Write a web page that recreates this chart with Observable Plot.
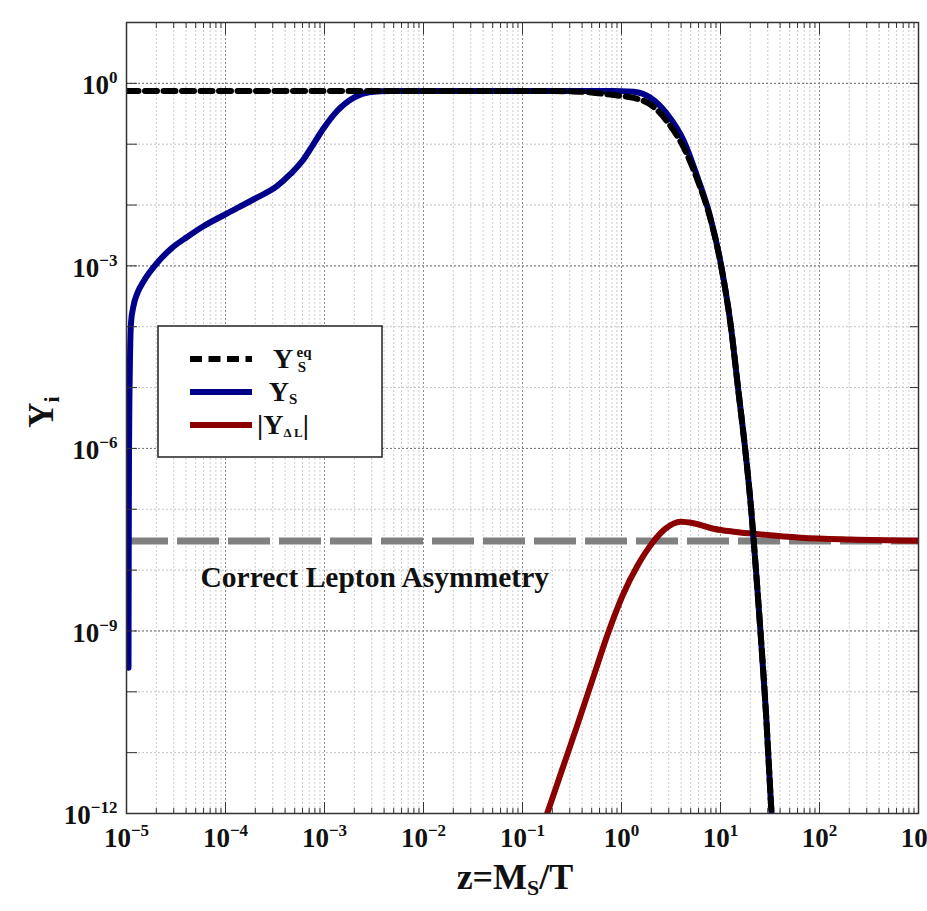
<!DOCTYPE html>
<html><head><meta charset="utf-8">
<script src="https://cdn.jsdelivr.net/npm/d3@7"></script>
<script src="https://cdn.jsdelivr.net/npm/@observablehq/plot@0.6"></script>
<style>
body{margin:0;background:#fff;}
#chart{position:relative;width:927px;height:911px;overflow:hidden;}
</style></head><body><div id="chart"></div>
<script>
// ---- data ----
// equilibrium abundance Y_S^eq (black dashed)
const zEq = [1e-5, 1e-4, 1e-3, 1e-2, 0.1, 0.2, 0.3, 0.45, 0.614, 0.8, 1.0, 1.33, 1.96, 2.9, 4.26, 5.93, 7.83, 10.24, 12.77, 15.02, 17.68, 20.33, 22.84, 25.35, 28.82, 32.74, 35.94];
const yEq = [0.75, 0.75, 0.75, 0.75, 0.75, 0.748, 0.74, 0.72, 0.68, 0.65, 0.62, 0.575, 0.45, 0.235, 0.0875, 0.0245, 6.3e-3, 9.2e-4, 9.7e-5, 1.0e-5, 1.03e-6, 1.07e-7, 9.8e-9, 9.7e-10, 4.4e-11, 1.04e-12, 1.15e-13];
// scalar abundance Y_S (blue)
const zS = [1.0476e-5, 1.0525e-5, 1.0599e-5, 1.0723e-5, 1.0874e-5, 1.1104e-5, 1.1769e-5, 1.2915e-5, 1.4956e-5, 1.888e-5, 2.78e-5, 4.10e-5, 6.04e-5, 1e-4, 1.93e-4, 3.33e-4, 4.535e-4, 6.18e-4, 7.74e-4, 9.84e-4, 1.34e-3, 1.98e-3, 2.92e-3, 4.65e-3, 0.01, 0.1, 0.3, 0.614, 1.0, 1.33, 1.96, 2.9, 4.26, 5.93, 7.83, 10.24, 12.77, 15.02, 17.68, 20.33, 22.84, 25.35, 28.82, 32.74, 35.94];
const yS = [2.49e-10, 1.43e-8, 9.15e-7, 8.85e-6, 4.02e-5, 1.156e-4, 2.20e-4, 3.60e-4, 5.66e-4, 9.62e-4, 1.88e-3, 2.99e-3, 4.53e-3, 7.06e-3, 0.01245, 0.0206, 0.0324, 0.0571, 0.1007, 0.1844, 0.3508, 0.5845, 0.7196, 0.7475, 0.75, 0.75, 0.75, 0.748, 0.745, 0.728, 0.58, 0.31, 0.113, 0.0268, 6.62e-3, 9.4e-4, 9.7e-5, 1.0e-5, 1.035e-6, 1.07e-7, 9.8e-9, 9.7e-10, 4.39e-11, 1.04e-12, 1.15e-13];
// lepton asymmetry |Y_ΔL| (red)
const zL = [0.126, 0.1789, 0.2535, 0.3594, 0.5095, 0.7222, 1.0235, 1.450, 2.056, 2.782, 3.945, 5.337, 8.50, 13.53, 21.54, 64.3, 205.6, 1000];
const yL = [1.97e-13, 1.04e-12, 5.48e-12, 2.89e-11, 1.585e-10, 8.67e-10, 3.80e-9, 1.18e-8, 2.82e-8, 4.79e-8, 6.24e-8, 5.90e-8, 4.79e-8, 4.28e-8, 3.96e-8, 3.41e-8, 3.18e-8, 3.04e-8];
// observed ("correct") lepton asymmetry level
const asymLevel = [3.0e-8];
const asymText = ["Correct Lepton Asymmetry"];
const asymTextZ = [5.6e-5];
const asymTextY = [7.6e-9];
// axes
const xMajor = [1e-5, 1e-4, 1e-3, 1e-2, 1e-1, 1, 1e1, 1e2, 1e3];
const yMajor = [1e-12, 1e-11, 1e-10, 1e-9, 1e-8, 1e-7, 1e-6, 1e-5, 1e-4, 1e-3, 1e-2, 1e-1, 1, 10];
const yLabeled = [1e-12, 1e-9, 1e-6, 1e-3, 1];
const xMinor = xMajor.slice(0, -1).flatMap(d => [2,3,4,5,6,7,8,9].map(m => m * d));

const toRows = (zs, ys) => zs.map((z, i) => ({z, y: ys[i]}));
const eqRows = toRows(zEq, yEq);
const sRows = toRows(zS, yS);
const lRows = toRows(zL, yL);

const FONT = "'Liberation Serif','Times New Roman',serif";
const supFmt = d => "10^" + String(Math.round(Math.log10(d))).replace("-", "\u2212");
const blank = () => "";

const plot = Plot.plot({
  width: 927, height: 911,
  marginLeft: 126, marginRight: 9, marginTop: 22, marginBottom: 98,
  x: {type: "log", domain: [1e-5, 1e3], label: null},
  y: {type: "log", domain: [1e-12, 10], label: null},
  style: {fontFamily: FONT, background: "white", color: "#111"},
  marks: [
    Plot.gridX(xMinor, {stroke: "#cccccc", strokeOpacity: 1, strokeDasharray: "2,2"}),
    Plot.gridX(xMajor, {stroke: "#8c8c8c", strokeOpacity: 1, strokeDasharray: "2,2"}),
    Plot.gridY(yMajor, {stroke: "#c4c4c4", strokeOpacity: 1, strokeDasharray: "2,2"}),
    Plot.gridY(yLabeled, {stroke: "#777", strokeOpacity: 1, strokeDasharray: "2,2"}),
    Plot.ruleY(asymLevel, {stroke: "#808080", strokeWidth: 7, strokeDasharray: "42,9"}),
    Plot.line(lRows, {x: "z", y: "y", stroke: "#8b0000", strokeWidth: 6, curve: "monotone-x", clip: true}),
    Plot.line(sRows, {x: "z", y: "y", stroke: "#00008b", strokeWidth: 6, curve: "monotone-x", clip: true}),
    Plot.line(eqRows, {x: "z", y: "y", stroke: "#000", strokeWidth: 6, strokeDasharray: "12,6.5", curve: "monotone-x", clip: true}),
    Plot.text(asymText, {x: asymTextZ, y: asymTextY, text: d => d, textAnchor: "start", fontSize: 29.5, fontWeight: "bold", fill: "#111"}),
    Plot.frame({stroke: "#333", strokeWidth: 1.5}),
    Plot.axisX(xMajor, {anchor: "bottom", tickSize: -11, tickFormat: blank, stroke: "#333", label: null}),
    Plot.axisX(xMinor, {anchor: "bottom", tickSize: -5, tickFormat: blank, stroke: "#333", label: null}),
    Plot.axisX(xMajor, {anchor: "top", tickSize: -11, tickFormat: blank, stroke: "#333", label: null}),
    Plot.axisX(xMinor, {anchor: "top", tickSize: -5, tickFormat: blank, stroke: "#333", label: null}),
    Plot.axisY(yMajor, {anchor: "left", tickSize: -11, tickFormat: blank, stroke: "#333", label: null}),
    Plot.axisY(yMajor, {anchor: "right", tickSize: -9, tickFormat: blank, stroke: "#333", label: null}),
    Plot.axisX(xMajor, {anchor: "bottom", tickSize: 0, tickPadding: 14, tickFormat: supFmt, fontSize: 27, fontWeight: "bold", fill: "#111", label: null}),
    Plot.axisY(yLabeled, {anchor: "left", tickSize: 0, tickPadding: 9, tickFormat: supFmt, fontSize: 27, fontWeight: "bold", fill: "#111", dy: 2, label: null})
  ]
});

const NS = "http://www.w3.org/2000/svg";
plot.querySelectorAll("text").forEach(t => {
  const s = t.textContent;
  if (!s.includes("^")) return;
  const [base, exp] = s.split("^");
  t.textContent = "";
  const a = document.createElementNS(NS, "tspan"); a.textContent = base; t.appendChild(a);
  const b = document.createElementNS(NS, "tspan"); b.textContent = exp;
  b.setAttribute("dy", "-11"); b.setAttribute("font-size", "17"); t.appendChild(b);
});

function el(tag, attrs, parent) {
  const e = document.createElementNS(NS, tag);
  for (const k in attrs) e.setAttribute(k, attrs[k]);
  if (parent) parent.appendChild(e);
  return e;
}
function span(parent, text, attrs) { const s = el("tspan", attrs || {}, parent); s.textContent = text; return s; }

// axis titles
const xl = el("text", {x: 515, y: 889, "text-anchor": "middle", "font-size": 36, "font-weight": "bold", "font-family": FONT, fill: "#111"}, plot);
span(xl, "z=M"); span(xl, "S", {"font-size": 22, dy: 6}); span(xl, "/T", {dy: -6});
const yl = el("text", {transform: "translate(53,412) rotate(-90)", "text-anchor": "middle", "font-size": 35, "font-weight": "bold", "font-family": FONT, fill: "#111"}, plot);
span(yl, "Y"); span(yl, "i", {"font-size": 22, dy: 6});

// legend
const lg = el("g", {"font-family": FONT, "font-weight": "bold", fill: "#111"}, plot);
el("rect", {x: 158, y: 326, width: 224, height: 131, fill: "white", stroke: "#222", "stroke-width": 1.5}, lg);
const rows = [
  {yy: 359, stroke: "#000", dash: "12,6.5", w: 6},
  {yy: 392, stroke: "#00008b", dash: null, w: 6},
  {yy: 425, stroke: "#8b0000", dash: null, w: 6}
];
rows.forEach(r => {
  const ln = el("line", {x1: 190, x2: 252, y1: r.yy, y2: r.yy, stroke: r.stroke, "stroke-width": r.w}, lg);
  if (r.dash) ln.setAttribute("stroke-dasharray", r.dash);
});
let t1 = el("text", {x: 283, y: 368, "font-size": 28}, lg); t1.textContent = "Y";
let t1a = el("text", {x: 304, y: 357, "font-size": 15}, lg); t1a.textContent = "eq";
let t1b = el("text", {x: 302, y: 372, "font-size": 15}, lg); t1b.textContent = "S";
let t2 = el("text", {x: 283, y: 401, "font-size": 28}, lg);
span(t2, "Y"); span(t2, "S", {"font-size": 15, dy: 3});
let t3 = el("text", {x: 283, y: 434, "font-size": 28}, lg);
span(t3, "|Y"); span(t3, "\u0394 L", {"font-size": 13, dy: 3}); span(t3, "|", {dy: -3});

document.getElementById("chart").appendChild(plot);
</script></body></html>
